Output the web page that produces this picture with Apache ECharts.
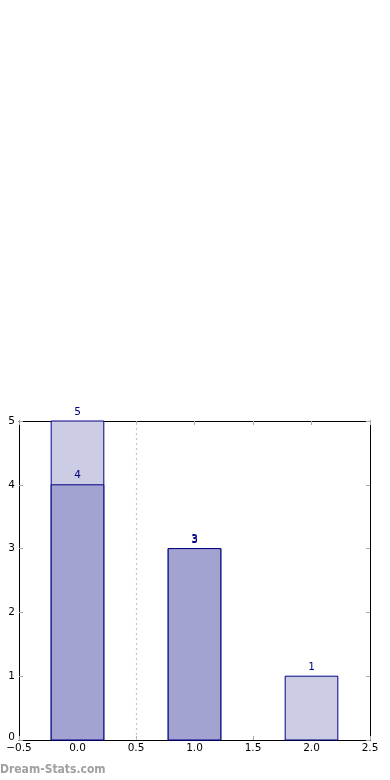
<!DOCTYPE html>
<html><head><meta charset="utf-8">
<script src="https://cdn.jsdelivr.net/npm/echarts@6/dist/echarts.min.js"></script>
<style>html,body{margin:0;padding:0;background:#fff}#c{width:390px;height:780px}</style>
</head><body><div id="c"></div>
<script>
const positions = [0, 1, 2];
const lightValues = [5, 3, 1];
const darkValues = [4, 3, null];
const xTicks = [-0.5, 0, 0.5, 1, 1.5, 2, 2.5];
const yTicks = [0, 1, 2, 3, 4, 5];
const separatorX = 0.5;
const barHalf = 0.225;

const chart = echarts.init(document.getElementById('c'), null, {renderer: 'canvas'});
const fmtX = v => { const s = Math.abs(v).toFixed(1); return v < 0 ? '\u2212' + s : s; };
function makeRender(fill) {
  return function (params, api) {
    const x = api.value(0), y = api.value(1);
    const p0 = api.coord([x - barHalf, y]);
    const p1 = api.coord([x + barHalf, 0]);
    return {type: 'group', children: [
      {type: 'rect', shape: {x: p0[0], y: p0[1], width: p1[0] - p0[0], height: p1[1] - p0[1]},
        style: {fill: fill, stroke: '#000080', lineWidth: 1}},
      {type: 'text', style: {text: String(y), x: (p0[0] + p1[0]) / 2, y: p0[1] - 3 - params.seriesIndex,
        align: 'center', verticalAlign: 'bottom', fill: '#000080', font: '10.5px "DejaVu Sans"'}}
    ]};
  };
}
const lightData = positions.map((p, i) => [p, lightValues[i]]).filter(d => d[1] != null);
const darkData = positions.map((p, i) => [p, darkValues[i]]).filter(d => d[1] != null);
const tickStyle = {show: true, inside: true, length: 4, lineStyle: {color: '#aaaaaa', width: 1}};
chart.setOption({
  animation: false,
  grid: {left: 19, right: 20, top: 421, bottom: 40},
  xAxis: [
    {type: 'value', min: -0.5, max: 2.5, interval: 0.5, position: 'bottom',
      axisLine: {show: true, onZero: false, lineStyle: {color: '#000', width: 1}},
      axisTick: tickStyle, splitLine: {show: false},
      axisLabel: {color: '#000', fontSize: 10.5, fontFamily: 'DejaVu Sans', margin: 3, formatter: fmtX}},
    {type: 'value', min: -0.5, max: 2.5, interval: 0.5, position: 'top',
      axisLine: {show: true, onZero: false, lineStyle: {color: '#000', width: 1}},
      axisTick: tickStyle, splitLine: {show: false}, axisLabel: {show: false}}
  ],
  yAxis: [
    {type: 'value', min: 0, max: 5, interval: 1, position: 'left',
      axisLine: {show: true, onZero: false, lineStyle: {color: '#000', width: 1}},
      axisTick: tickStyle, splitLine: {show: false},
      axisLabel: {color: '#000', fontSize: 10.5, fontFamily: 'DejaVu Sans', margin: 4,
        formatter: v => v === 0 ? '{z|0}' : String(v), rich: {z: {padding: [0, 0, 6, 0], fontSize: 10.5, fontFamily: 'DejaVu Sans'}}}},
    {type: 'value', min: 0, max: 5, interval: 1, position: 'right',
      axisLine: {show: true, onZero: false, lineStyle: {color: '#000', width: 1}},
      axisTick: tickStyle, splitLine: {show: false}, axisLabel: {show: false}}
  ],
  series: [
    {type: 'custom', renderItem: makeRender('#ccccE5'), data: lightData, z: 2,
      markLine: {silent: true, symbol: 'none', label: {show: false},
        lineStyle: {color: '#c4c4c4', type: [2, 3], width: 1.2},
        data: [{xAxis: separatorX}]}},
    {type: 'custom', renderItem: makeRender('#a3a3d1'), data: darkData, z: 3}
  ],
  graphic: [{type: 'text', left: 0, top: 764,
    style: {text: 'Dream-Stats.com', fill: '#a0a0a0', font: 'bold 12px "DejaVu Sans Condensed"'}}]
});
</script></body></html>
